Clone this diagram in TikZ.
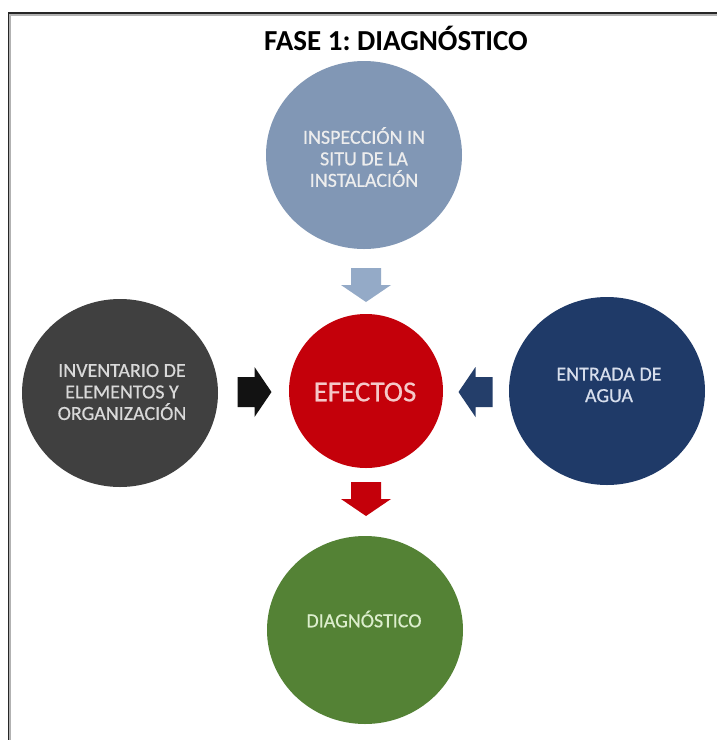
\documentclass[tikz,border=0pt]{standalone}
\usepackage{fontspec}
\setmainfont{Carlito}
\newfontfamily\medfont{Carlito}[FakeBold=0.5]
\usetikzlibrary{shapes.geometric}
\definecolor{topblue}{RGB}{129,151,181}
\definecolor{toparrow}{RGB}{148,170,199}
\definecolor{darkgray}{RGB}{64,64,64}
\definecolor{effred}{RGB}{196,0,10}
\definecolor{navy}{RGB}{31,58,104}
\definecolor{navyarrow}{RGB}{36,62,106}
\definecolor{green1}{RGB}{84,130,53}
\tikzset{
  bubble/.style={ellipse, inner sep=0pt, minimum width=196pt, minimum height=188pt},
  ctext/.style={align=center, inner sep=0pt, font=\medfont\fontsize{20}{21.5}\selectfont},
  blockarr/.pic={\fill (-17,-15) -- (0,-15) -- (0,-25) -- (17,0) -- (0,25) -- (0,15) -- (-17,15) -- cycle;}
}
\frenchspacing
\begin{document}
\begin{tikzpicture}[x=1pt,y=-1pt]
\useasboundingbox (0,0) rectangle (717,740);
\fill[white] (0,0) rectangle (717,740);
% frame
\draw[gray!60, line width=1.5pt] (10,741) -- (10,15) -- (718,15);
\draw[black!85, line width=1.5pt] (8.5,741) -- (8.5,13) -- (718,13);
% title
\node[font=\bfseries\fontsize{29}{32}\selectfont, inner sep=0pt] (title) at (396,38) {FASE 1: DIAGNÓSTICO};
% circles
\node[bubble, fill=topblue] (insp) at (364,155) {};
\node[bubble, fill=darkgray] (inv) at (120,393) {};
\node[circle, fill=effred, inner sep=0pt, minimum size=154pt] (efectos) at (366,391) {};
\node[bubble, fill=navy] (agua) at (607,391) {};
\node[bubble, fill=green1] (diag) at (365,630) {};
% texts
\node[ctext, text=white!93!black] (insptxt) at (364,157) {INSPECCIÓN IN\\SITU DE LA\\INSTALACIÓN};
\node[ctext, text=white!85!black] (invtxt) at (122,392) {INVENTARIO DE\\ELEMENTOS Y\\ORGANIZACIÓN};
\node[ctext, font=\medfont\fontsize{29}{32}\selectfont, text={rgb,255:red,245;green,200;blue,200}] (eftxt) at (365,392) {EFECTOS};
\node[ctext, text={rgb,255:red,215;green,222;blue,236}] (aguatxt) at (609,385) {ENTRADA DE\\AGUA};
\node[ctext, text={rgb,255:red,220;green,238;blue,205}] (diagtxt) at (364,619) {DIAGNÓSTICO};
% block arrows
\path (366,285) pic[rotate=-90, toparrow] {blockarr};
\path (254.5,392) pic[black!93] {blockarr};
\path (475.5,392) pic[rotate=180, navyarrow] {blockarr};
\path (366,499) pic[rotate=-90, effred] {blockarr};
\end{tikzpicture}
\end{document}
